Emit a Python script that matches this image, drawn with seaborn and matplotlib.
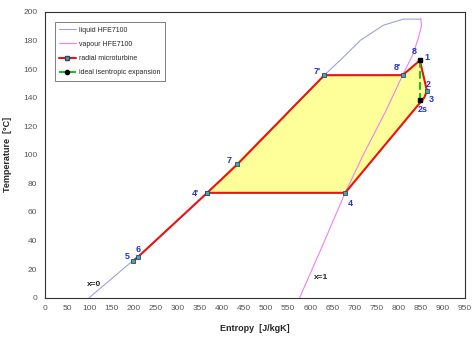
import matplotlib
matplotlib.use("Agg")
import matplotlib.pyplot as plt
from matplotlib.lines import Line2D
import seaborn as sns

# saturation curves of HFE7100 (entropy J/kgK, temperature degC)
liq_s = [100, 199, 211, 367, 435, 560, 632, 676, 714, 766, 811, 850]
liq_T = [0, 26, 28.7, 73.4, 93.3, 133, 155.7, 168.6, 180.2, 190.7, 194.9, 194.9]
vap_s = [850, 852, 845, 832, 809, 770, 720, 679, 630, 576]
vap_T = [195.4, 190.7, 182, 170, 155.7, 130, 100, 73.4, 38, 0]

# cycle points
cyc_lbl = ["5", "6", "4'", "7", "7'", "8'", "1", "2", "3", "4", "4'"]
cyc_s = [199, 211, 367, 435, 632, 809, 848, 864, 858, 679, 367]
cyc_T = [25.7, 28.7, 73.4, 93.3, 155.7, 155.7, 166, 144.8, 140, 73.4, 73.4]
marked = ["5", "6", "4'", "7", "7'", "8'", "2", "4"]

# isentropic expansion 1 -> 2s
ise_s = [848, 848]
ise_T = [166, 138.3]

# label positions
lab_txt = ["1", "8", "8'", "7'", "2", "3", "2s", "7", "4'", "4", "5", "6"]
lab_s = [863, 836, 796, 615, 868, 875, 855, 417, 340, 690, 185, 210]
lab_T = [168, 172, 161, 158, 149, 139, 132, 96, 73, 66, 29, 34]

sns.set_style("white")
plt.rcParams['font.family'] = ['Liberation Sans', 'DejaVu Sans']

fig = plt.figure(figsize=(4.73, 3.38), dpi=100)
ax = fig.add_axes([0.095, 0.119, 0.888, 0.846])

# yellow area of the cycle
poly = ["4'", "7'", "8'", "1", "2", "3", "4"]
idx = [cyc_lbl.index(p) for p in poly]
ax.fill([cyc_s[i] for i in idx], [cyc_T[i] for i in idx], color="#ffff99", zorder=1)

sns.lineplot(x=liq_s, y=liq_T, sort=False, estimator=None, color="#a0a0e0", lw=0.8,
             ax=ax, zorder=2)
sns.lineplot(x=vap_s, y=vap_T, sort=False, estimator=None, color="#f07ef0", lw=0.8,
             ax=ax, zorder=2)
sns.lineplot(x=cyc_s, y=cyc_T, sort=False, estimator=None, color="#ee1111", lw=1.5,
             ax=ax, zorder=3)
mk = [i for i, l in enumerate(cyc_lbl) if l in marked]
ax.plot([cyc_s[i] for i in mk], [cyc_T[i] for i in mk], ls="none", marker="s", ms=3.5,
        mfc="#4aa3b0", mec="#2a4a60", mew=0.6, zorder=4)
sns.lineplot(x=ise_s, y=ise_T, sort=False, estimator=None, color="#22bb22", lw=1.5,
             ax=ax, zorder=3, linestyle="--")
ax.plot(ise_s, ise_T, ls="none", marker="s", ms=3, color="black", zorder=5)

for t, s, T in zip(lab_txt, lab_s, lab_T):
    ax.text(s, T, t, color="#2233cc", fontsize=6.5, fontweight="bold", ha="center", va="center", zorder=6)
ax.text(110, 9.5, "x=0", fontsize=6, fontweight="bold", ha="center", va="center")
ax.text(625, 14, "x=1", fontsize=6, fontweight="bold", ha="center", va="center")

# legend handles
handles = [
    Line2D([], [], color="#a0a0e0", lw=0.8),
    Line2D([], [], color="#f07ef0", lw=0.8),
    Line2D([], [], color="#ee1111", lw=1.5, marker="s", ms=3.5, mfc="#4aa3b0", mec="#2a4a60"),
    Line2D([], [], color="#22bb22", lw=1.5, ls="--", marker="o", ms=3, mfc="black", mec="black"),
]
names = ["liquid HFE7100", "vapour HFE7100", "radial microturbine", "ideal isentropic expansion"]
leg = ax.legend(handles, names, loc="upper left", bbox_to_anchor=(0.015, 0.975), fontsize=5,
                frameon=True, fancybox=False, edgecolor="#444444", handlelength=2.4,
                handletextpad=0.5, borderpad=0.6, labelspacing=1.05)
leg.get_frame().set_linewidth(0.6)

ax.set_xlim(0, 950)
ax.set_ylim(0, 200)
ax.set_xticks(range(0, 951, 50))
ax.set_yticks(range(0, 201, 20))
ax.tick_params(labelsize=6, colors="#555555", length=2)
for sp in ax.spines.values():
    sp.set_color("#333333")
    sp.set_linewidth(0.8)
ax.set_xlabel("Entropy  [J/kgK]", fontsize=6.5, fontweight="bold", labelpad=8)
ax.set_ylabel("Temperature  [°C]", fontsize=6.5, fontweight="bold", labelpad=8)

fig.savefig("out.png", dpi=100)
